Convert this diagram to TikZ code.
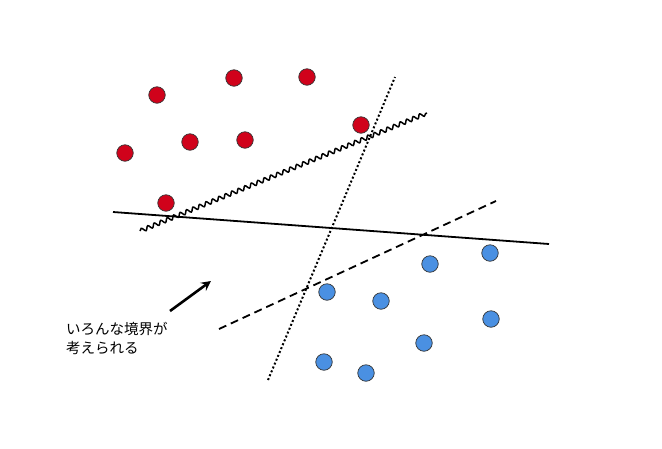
\documentclass[tikz,border=0pt]{standalone}
\usepackage{fontspec}
\newfontfamily\jpfont{Noto Sans CJK JP}
\usetikzlibrary{arrows.meta,decorations.pathmorphing}
\definecolor{dotred}{HTML}{D0021B}
\definecolor{dotblue}{HTML}{4A90E2}
\definecolor{rim}{HTML}{333333}
\tikzset{
  reddot/.style={circle,draw=rim,fill=dotred,line width=0.7pt,
                 minimum size=16.5pt,inner sep=0pt},
  bluedot/.style={circle,draw=rim,fill=dotblue,line width=0.7pt,
                  minimum size=16.5pt,inner sep=0pt},
  border/.style={line width=1.8pt,draw=black},
  wavyborder/.style={line width=1.5pt,draw=black,decorate,
                     decoration={snake,amplitude=2pt,segment length=7pt}},
  dottedborder/.style={line width=2pt,draw=black,dash pattern=on 2pt off 2.2pt},
  dashedborder/.style={line width=1.8pt,draw=black,dash pattern=on 8pt off 5pt},
  pointer/.style={-{Stealth[length=10pt,width=10pt,inset=4pt]},line width=2.6pt},
  note/.style={font=\jpfont\fontsize{14.5}{19}\selectfont,align=left,
               anchor=north west,inner sep=0pt}
}
\begin{document}
\begin{tikzpicture}[x=1pt,y=-1pt]
    \useasboundingbox (0,0) rectangle (662,448);
    % boundaries
    \coordinate (solidA) at (113,212);
    \coordinate (solidB) at (549,244);
    \coordinate (wavyA) at (140,231);
    \coordinate (wavyB) at (427,113);
    \coordinate (dotA) at (268,380);
    \coordinate (dotB) at (395,77);
    \coordinate (dashA) at (219,329);
    \coordinate (dashB) at (496,201);
    \draw[border] (solidA) -- (solidB);
    \draw[wavyborder] (wavyA) -- (wavyB);
    \draw[dottedborder] (dotA) -- (dotB);
    \draw[dashedborder] (dashA) -- (dashB);
    % samples
    \foreach \px/\py [count=\i] in {157/95,234/78,307/77,125/153,190/142,
                                    245/140,361/125,166/203}{
      \node[reddot] (red\i) at (\px,\py) {};
    }
    \foreach \px/\py [count=\i] in {490/253,430/264,327/292,381/301,
                                    491/319,424/343,324/362,366/373}{
      \node[bluedot] (blue\i) at (\px,\py) {};
    }
    % note
    \node[note] (caption) at (66,322) {いろんな境界が\\考えられる};
    \coordinate (tip) at (211,281);
    \draw[pointer] (170,311) -- (tip);
  \end{tikzpicture}
\end{document}
